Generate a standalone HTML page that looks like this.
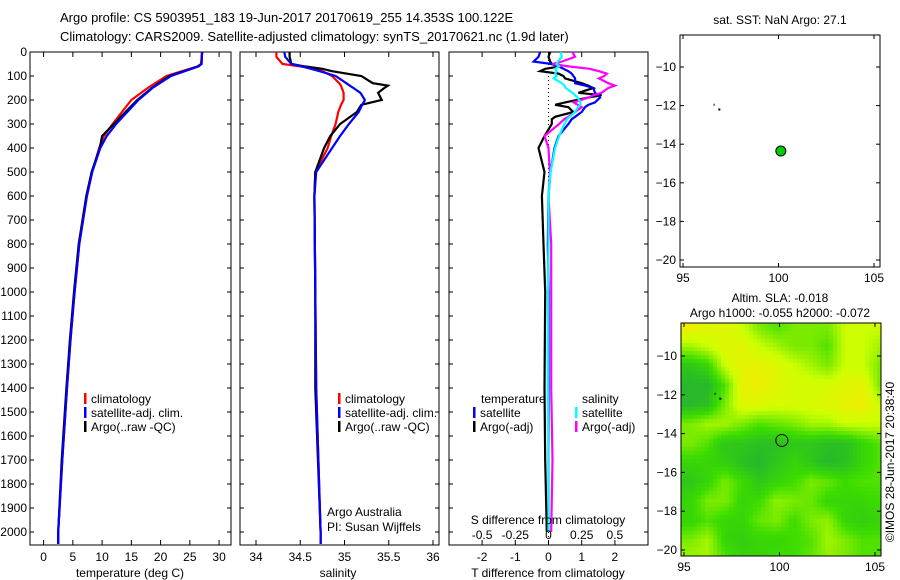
<!DOCTYPE html>
<html><head><meta charset="utf-8"><style>
body{margin:0;background:#fff;}
svg{display:block;font-family:"Liberation Sans",sans-serif;}
text{font-size:12px;fill:#000;}
</style></head><body>
<svg id="chart" width="900" height="580" viewBox="0 0 900 580">
<text x="60" y="22" style="font-size:13px">Argo profile: CS 5903951_183 19-Jun-2017 20170619_255 14.353S 100.122E</text>
<text x="60" y="41" style="font-size:13px">Climatology: CARS2009. Satellite-adjusted climatology: synTS_20170621.nc (1.9d later)</text>
</svg>
<script>
// ---- data ----
const depthTicks=[0,100,200,300,400,500,600,700,800,900,1000,1100,1200,1300,1400,1500,1600,1700,1800,1900,2000];
const tempTicks=[0,5,10,15,20,25,30];
const salTicks=[34,34.5,35,35.5,36];
const tdiffTicks=[-2,-1,0,1,2];
const sdiffTicks=[-0.5,-0.25,0,0.25,0.5];
const sdiffTickLabels=["-0.5","-0.25","0","0.25","0.5"];
const latTicks=[-10,-12,-14,-16,-18,-20];
const lonTicks=[95,100,105];

const tDepth=[0,50,60,100,150,200,300,350,400,500,600,800,1000,1200,1400,1700,2000,2050];
const tClim=[27.1,26.9,26.3,21.0,17.8,15.0,11.8,10.3,9.5,8.3,7.4,6.1,5.3,4.6,4.0,3.2,2.5,2.5];
const tSat=[27.1,27.0,26.5,21.8,18.6,16.2,12.4,10.8,9.7,8.3,7.4,6.1,5.3,4.6,4.0,3.2,2.5,2.5];
const tArgo=[27.1,27.0,26.4,21.5,18.5,16.0,12.0,10.0,9.6,8.2,7.3,6.0,5.2,4.5,3.9,3.1,2.5,2.5];

const sDepth=[0,20,50,60,70,80,100,130,140,150,170,200,220,250,300,350,400,500,600,1000,1400,2000,2050];
const sClim=[34.23,34.23,34.3,34.5,34.67,34.75,34.86,34.94,34.96,34.97,34.99,34.99,34.96,34.93,34.9,34.85,34.81,34.67,34.66,34.67,34.68,34.73,34.73];
const sSat=[34.32,34.33,34.4,34.52,34.62,34.72,34.9,35.02,35.06,35.1,35.18,35.23,35.2,35.16,35.05,34.95,34.86,34.68,34.66,34.67,34.68,34.73,34.73];
const sArgo=[34.38,34.38,34.4,34.55,34.75,34.86,35.19,35.32,35.49,35.45,35.38,35.42,35.19,35.14,34.95,34.84,34.77,34.67,34.66,34.67,34.67,34.73,34.73];

const dDepth=[0,20,40,50,60,70,80,90,100,110,130,140,150,170,180,190,210,220,230,250,270,280,300,350,400,500,600,800,1000,1400,1700,2000];
const dTArgo=[0.05,0.0,0.05,0.1,0.35,-0.1,-0.25,0.3,0.45,0.5,1.0,1.2,1.35,0.9,1.6,1.2,0.5,0.2,0.6,0.75,0.2,0.1,0.1,-0.12,-0.3,-0.12,-0.2,-0.15,-0.1,-0.12,-0.1,-0.05];
const dTSat=[-0.25,-0.3,-0.45,0.1,0.3,0.45,0.6,0.7,0.75,0.8,0.8,1.1,1.35,1.4,1.5,1.55,1.4,1.2,1.1,1.0,0.8,0.7,0.6,0.3,0.18,0.06,0.0,-0.02,0.0,0.0,0.0,0.0];
const dSSat=[0.09,0.1,0.07,0.06,0.08,0.05,0.06,0.05,0.06,0.04,0.1,0.12,0.13,0.18,0.2,0.22,0.24,0.24,0.22,0.2,0.16,0.14,0.12,0.08,0.05,0.015,0.0,0.0,-0.005,-0.005,0.0,0.0];
const dSArgo=[0.18,0.2,0.1,0.03,0.15,0.31,0.38,0.44,0.42,0.38,0.45,0.5,0.45,0.4,0.34,0.3,0.19,0.22,0.25,0.2,0.15,0.12,0.08,-0.03,0.0,0.01,0.0,0.02,0.02,0.02,0.03,0.02];

const slaLon=[95.4,96.3,97.2,98.1,99.0,99.9,100.8,101.7,102.6,103.5,104.4,105.3];
const slaLat=[-8.5,-9.5,-10.5,-11.5,-12.5,-13.5,-14.5,-15.5,-16.5,-17.5,-18.5,-19.5,-20.5];
const slaVal=[
[0.9,0.8,0.8,0.7,0.5,0.4,0.5,0.5,0.5,0.7,0.7,0.7],
[0.6,0.7,0.8,0.8,0.7,0.6,0.5,0.5,0.4,0.7,0.7,0.6],
[0.2,0.3,0.7,0.85,0.85,0.8,0.7,0.6,0.5,0.7,0.7,0.5],
[0.1,0.1,0.4,0.85,0.9,0.8,0.75,0.75,0.75,0.8,0.85,0.5],
[0.1,0.15,0.5,0.8,0.8,0.75,0.75,0.75,0.8,0.85,0.9,0.7],
[0.5,0.6,0.6,0.5,0.4,0.45,0.5,0.6,0.6,0.7,0.7,0.7],
[0.5,0.4,0.2,0.2,0.15,0.15,0.2,0.2,0.15,0.15,0.3,0.4],
[0.3,0.3,0.25,0.15,0.1,0.2,0.3,0.2,0.1,0.15,0.3,0.4],
[0.2,0.3,0.5,0.35,0.2,0.3,0.35,0.5,0.45,0.35,0.4,0.4],
[0.3,0.5,0.5,0.3,0.35,0.55,0.5,0.45,0.3,0.3,0.3,0.35],
[0.3,0.4,0.3,0.3,0.45,0.5,0.35,0.5,0.55,0.3,0.25,0.3],
[0.5,0.6,0.3,0.25,0.3,0.3,0.35,0.4,0.6,0.5,0.4,0.4],
[0.6,0.6,0.4,0.3,0.3,0.35,0.35,0.45,0.55,0.5,0.4,0.4]];
const argoLon=[100.122];
const argoLat=[-14.353];

// ---- helpers ----
const svg=document.getElementById('chart');
const NS='http://www.w3.org/2000/svg';
function mk(tag,attrs,parent){const e=document.createElementNS(NS,tag);for(const k in attrs)e.setAttribute(k,attrs[k]);(parent||svg).appendChild(e);return e;}
function txt(x,y,s,anchor,parent){const t=mk('text',{x:x,y:y,'text-anchor':anchor||'start'},parent);t.textContent=s;return t;}

const TOP=52,BOT=545;
const yD=d=>TOP+d*0.24;
const xT=v=>43.6+v*5.85;
const xS=v=>256+(v-34)*88.5;
const xDT=v=>548.5+v*33.2;
const xDS=v=>548.5+v*132.8;

function frame(x0,x1,name){const r=mk('rect',{x:x0,y:TOP,width:x1-x0,height:BOT-TOP,fill:'none',stroke:'#000','stroke-width':1});

}
function line(fx,vals,col,name,w){const p=vals.map((v,i)=>fx(v).toFixed(1)+','+yD(name.indexOf('diff')>=0?dDepth[i]:(name.indexOf('temp')>=0?tDepth[i]:sDepth[i])).toFixed(1)).join(' ');
const e=mk('polyline',{points:p,fill:'none',stroke:col,'stroke-width':w||2.2});

}
function depthTickMarks(x0,x1,labels){depthTicks.forEach(d=>{const y=yD(d);mk('line',{x1:x0,x2:x0+4,y1:y,y2:y,stroke:'#000'});mk('line',{x1:x1,x2:x1-4,y1:y,y2:y,stroke:'#000'});
if(labels){const t=txt(x0-3,y+4,String(d),'end');}});}
function xTicks(vals,fx,labs){vals.forEach((v,i)=>{const x=fx(v);mk('line',{x1:x,x2:x,y1:TOP,y2:TOP+5,stroke:'#000'});mk('line',{x1:x,x2:x,y1:BOT,y2:BOT-5,stroke:'#000'});
const t=txt(x,561,labs?labs[i]:String(v),'middle');});}
function legend(x,y,items){items.forEach((it,i)=>{mk('rect',{x:x,y:y+i*14-10,width:2.5,height:11,fill:it[0]});const t=txt(x+7,y+i*14,it[1]);});}

// ---- panel 1 temperature ----
frame(30,231,'temperature-panel');
depthTickMarks(30,231,true);
xTicks(tempTicks,xT);
line(xT,tClim,'#f00','temp-climatology');
line(xT,tArgo,'#000','temp-argo');
line(xT,tSat,'#00f','temp-satellite');
txt(130,577,'temperature (deg C)','middle');
legend(84,403,[['#f00','climatology'],['#00f','satellite-adj. clim.'],['#000','Argo(..raw -QC)']]);

// ---- panel 2 salinity ----
frame(240,439,'salinity-panel');
depthTickMarks(240,439,false);
xTicks(salTicks,xS);
line(xS,sClim,'#f00','sal-climatology');
line(xS,sArgo,'#000','sal-argo');
line(xS,sSat,'#00f','sal-satellite');
txt(338,577,'salinity','middle');
legend(338,403,[['#f00','climatology'],['#00f','satellite-adj. clim.'],['#000','Argo(..raw -QC)']]);
txt(327,516,'Argo Australia');
txt(327,531,'PI: Susan Wijffels');

// ---- panel 3 differences ----
frame(449,648,'difference-panel');
depthTickMarks(449,648,false);
xTicks(tdiffTicks,xDT);
mk('line',{x1:548.5,x2:548.5,y1:TOP,y2:BOT,stroke:'#000','stroke-dasharray':'1,3'});
line(xDT,dTArgo,'#000','diff-t-argo');
line(xDT,dTSat,'#00f','diff-t-satellite');
line(xDS,dSArgo,'#f0f','diff-s-argo');
line(xDS,dSSat,'#0ff','diff-s-satellite');
sdiffTicks.forEach((v,i)=>{const t=txt(xDS(v),539,sdiffTickLabels[i],'middle');});
txt(548,524,'S difference from climatology','middle');
txt(548,577,'T difference from climatology','middle');
txt(481,403,'temperature');
txt(582,403,'salinity');
legend(473,417,[['#00f','satellite'],['#000','Argo(-adj)']]);
legend(575,417,[['#0ff','satellite'],['#f0f','Argo(-adj)']]);

// ---- maps ----
function mapAxes(x0,x1,y0,y1,latA,latB,name){
 const fx=v=>x0+ (v-95)*(874-683)/10 + 3;
 const fy=v=>latA+(v-(-10))*(latB-latA)/(-10);
 const r=mk('rect',{x:x0,y:y0,width:x1-x0,height:y1-y0,fill:'none',stroke:'#000'});
 
 
 latTicks.forEach(v=>{const y=fy(v);mk('line',{x1:x0,x2:x0+4,y1:y,y2:y,stroke:'#000'});mk('line',{x1:x1,x2:x1-4,y1:y,y2:y,stroke:'#000'});const t=txt(x0-4,y+4,String(v).replace('-','\u2212'),'end');});
 lonTicks.forEach(v=>{const x=fx(v);mk('line',{x1:x,x2:x,y1:y0,y2:y0+4,stroke:'#000'});mk('line',{x1:x,x2:x,y1:y1,y2:y1-4,stroke:'#000'});const t=txt(x,y1+15,String(v),'middle');});
 return {fx,fy};
}
// top map
const m1=mapAxes(680,880,35,267,67,260,'sst-map');
const dot=mk('circle',{cx:m1.fx(argoLon[0]),cy:m1.fy(argoLat[0]),r:5,fill:'#0c0',stroke:'#000'});


mk('rect',{x:m1.fx(96.6),y:m1.fy(-11.9),width:1,height:2,fill:'#000'});
mk('rect',{x:m1.fx(96.85),y:m1.fy(-12.15),width:2,height:2,fill:'#000'});
txt(780,24,'sat. SST: NaN Argo: 27.1','middle');

// bottom map heatmap (bilinear smoothing of the grid)
const g=mk('g',{});


function col(v){const stops=[[0,[30,170,60]],[0.35,[60,220,0]],[0.7,[205,255,0]],[1,[255,230,0]]];
 for(let i=1;i<stops.length;i++){if(v<=stops[i][0]){const a=stops[i-1],b=stops[i],t=(v-a[0])/(b[0]-a[0]);return 'rgb('+a[1].map((c,k)=>Math.round(c+(b[1][k]-c)*t)).join(',')+')';}}return 'rgb(255,230,0)';}
const bx0=681,bx1=881,by0=323,by1=556;
const fx2=v=>683+(v-95)*19.1;
const fy2=v=>356+(v+10)*(-19.4);
const ix2=x=>(x-683)/19.1+95;
const iy2=y=>(y-356)/(-19.4)-10;
function sample(lon,lat){
 let fi=(lon-slaLon[0])/(slaLon[1]-slaLon[0]);
 let fj=(lat-slaLat[0])/(slaLat[1]-slaLat[0]);
 fi=Math.max(0,Math.min(slaLon.length-1.001,fi));fj=Math.max(0,Math.min(slaLat.length-1.001,fj));
 const i=Math.floor(fi),j=Math.floor(fj),a=fi-i,b=fj-j;
 return slaVal[j][i]*(1-a)*(1-b)+slaVal[j][i+1]*a*(1-b)+slaVal[j+1][i]*(1-a)*b+slaVal[j+1][i+1]*a*b;
}
const STEP=4;
for(let y=by0;y<by1;y+=STEP){for(let x=bx0;x<bx1;x+=STEP){
 const v=sample(ix2(x+STEP/2),iy2(y+STEP/2));
 const c=mk('rect',{x:x,y:y,width:Math.min(STEP,bx1-x)+0.3,height:Math.min(STEP,by1-y)+0.3,fill:col(v)},g);
 
 
}}
const m2=mapAxes(bx0,bx1,by0,by1,356,550,'sla-map');
const circ=mk('circle',{cx:m2.fx(argoLon[0]),cy:m2.fy(argoLat[0]),r:6,fill:'none',stroke:'#000'});


mk('rect',{x:m2.fx(96.6),y:m2.fy(-11.9),width:1,height:2,fill:'#000'});
mk('rect',{x:m2.fx(96.85),y:m2.fy(-12.15),width:2,height:2,fill:'#000'});
txt(780,302,'Altim. SLA: -0.018','middle');
txt(780,317,'Argo h1000: -0.055 h2000: -0.072','middle');
const cr=txt(0,0,'©IMOS 28-Jun-2017 20:38:40','middle');
cr.setAttribute('transform','translate(894,462) rotate(-90)');


</script>
</body></html>
